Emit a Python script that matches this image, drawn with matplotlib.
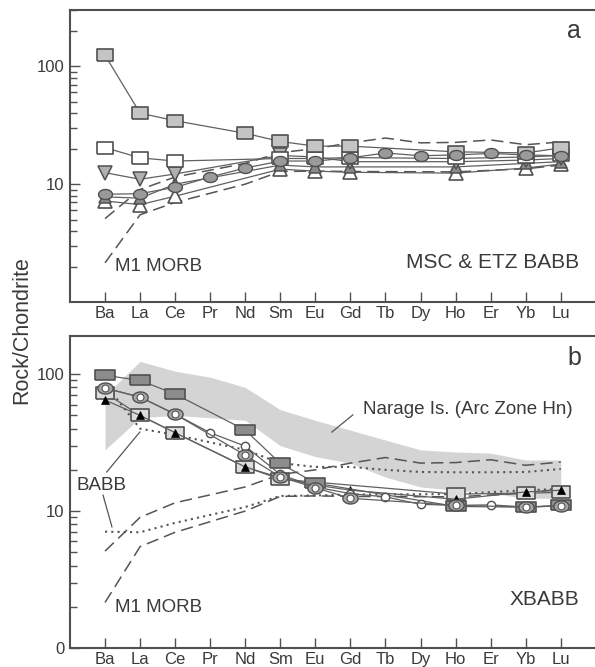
import numpy as np
import matplotlib
matplotlib.use("Agg")
import matplotlib.pyplot as plt
from matplotlib.ticker import FixedLocator, FixedFormatter, NullFormatter

plt.rcParams['font.family'] = ['Liberation Sans', 'DejaVu Sans']

nan = np.nan
elements = ['Ba', 'La', 'Ce', 'Pr', 'Nd', 'Sm', 'Eu', 'Gd', 'Tb', 'Dy', 'Ho', 'Er', 'Yb', 'Lu']

# reference lines (both panels)
morb_upper = [5.1, 9.0, 11.5, nan, 15.0, 18.5, 20.0, 22.4, 24.6, 22.4, 22.6, 23.7, 21.6, 22.8]
morb_m1 = [2.15, 5.5, 7.0, nan, 10.0, 12.8, 12.9, 12.8, nan, nan, 12.7, nan, 13.5, 14.5]

# panel a: MSC & ETZ BABB
a_gray_sq = [124, 40, 34.5, nan, 27, 23, 21, 21, nan, nan, 18.8, nan, 18.4, 20.3]
a_open_sq = [20.4, 16.7, 15.7, nan, nan, 16.5, 16.5, 16.8, nan, nan, 16.5, nan, 17.0, 17.5]
a_down_tri = [12.5, 11.0, 12.2, nan, nan, 17.5, 17.0, 15.5, nan, nan, 15.5, nan, 16.0, 16.5]
a_ellipse = [8.2, 8.3, 9.4, 11.5, 13.7, 15.7, 15.7, 16.7, 18.4, 17.4, 17.7, 18.2, 17.7, 17.4]
a_dark_tri = [7.8, 7.6, 10.0, nan, nan, 14.5, 14.0, 14.0, nan, nan, 14.0, nan, 15.0, 15.5]
a_open_tri = [7.2, 6.7, 7.9, nan, nan, 13.4, 12.9, 12.6, nan, nan, 12.4, nan, 13.7, 14.8]

# panel b: XBABB
babb_low = [7.07, 7.0, 8.2, nan, 10.7, 12.9, 13.0, 13.2, nan, nan, 13.3, nan, 14.2, 14.5]
babb_high = [85, 40, 36, nan, 28, 22.4, 21.0, 21.0, 20.0, 19.3, 19.2, 19.2, 19.3, 20.3]
narage_hi = [70, 124, 105, 95, 80, 55, 46, 39, 33, 28, 27, 26.5, 23.6, 23.6]
narage_lo = [28, 48, 50, 48, 46, 30, 25, 22.4, 17.7, 15, 14.2, 13.5, 12.4, 12.4]
b_dark_sq = [98, 90, 71.5, nan, 39, 22.3, 16.0, nan, nan, nan, 10.8, nan, 10.7, 11.0]
b_light_sq = [73, 50, 37.3, nan, 21, 17.1, nan, nan, nan, nan, 13.3, nan, 13.5, 13.7]
b_tri = [64.6, 50, 37.3, nan, 21, 17.5, 15.5, 14.2, nan, nan, 12.2, nan, 13.8, 14.2]
b_ellipse = [79, 68, 51, nan, 25.6, 17.8, 14.8, 12.4, nan, nan, 11.0, nan, 10.7, 10.9]
b_circle = [79, 68, 51, 37.3, 29.8, 18.5, 15.0, 13.4, 12.7, 11.2, 11.0, 11.1, 10.7, 10.9]

idx = np.arange(len(elements))
TXT = '#3a3a3a'
EDGE = '#505050'

# marker shapes
t = np.linspace(0, 2 * np.pi, 40)
ELL = np.column_stack([np.cos(t), 0.72 * np.sin(t)])
RECT = [(-1, -0.7), (1, -0.7), (1, 0.7), (-1, 0.7), (-1, -0.7)]
RECT_B = [(-1, -0.5), (1, -0.5), (1, 0.5), (-1, 0.5), (-1, -0.5)]


def series(ax, vals, ls='-', lw=0.9, color='#606060', **mk):
    v = np.array(vals, dtype=float)
    m = ~np.isnan(v)
    ax.plot(idx[m], v[m], linestyle=ls, lw=lw, color=color, **mk)


def style(ax, ytop, labels):
    ax.set_yscale('log')
    ax.set_ylim(1, ytop)
    ax.set_xlim(-1, 13.97)
    ax.yaxis.set_major_locator(FixedLocator(list(labels.keys())))
    ax.yaxis.set_major_formatter(FixedFormatter(list(labels.values())))
    minors = [m * d for d in (1, 10, 100) for m in range(2, 10)]
    ax.yaxis.set_minor_locator(FixedLocator(minors))
    ax.yaxis.set_minor_formatter(NullFormatter())
    ax.set_xticks(idx)
    ax.set_xticklabels(elements)
    ax.tick_params(axis='both', which='major', direction='in', length=7, width=1,
                   color=EDGE, labelcolor=TXT, labelsize=12, pad=4)
    ax.tick_params(axis='y', which='minor', direction='in', length=5, width=1, color=EDGE)
    ax.tick_params(axis='x', pad=3)
    for s in ('left', 'bottom', 'top'):
        ax.spines[s].set_color(EDGE)
        ax.spines[s].set_linewidth(1.5)
    ax.spines['right'].set_visible(False)


fig = plt.figure(figsize=(5.95, 6.67), dpi=100)
ax_a = fig.add_axes([0.1176, 0.5472, 0.882, 0.4378])
ax_b = fig.add_axes([0.1176, 0.0285, 0.882, 0.4678])

# ---------------- panel a ----------------
ax = ax_a
series(ax, morb_upper, ls=(0, (8, 4)), lw=1.1, color='#555555')
series(ax, morb_m1, ls=(0, (8, 4)), lw=1.1, color='#555555')
series(ax, a_open_tri, marker='^', ms=10, mfc='white', mec=EDGE, mew=1.2)
series(ax, a_dark_tri, marker='^', ms=9, mfc='#8a8a8a', mec=EDGE, mew=1.1)
series(ax, a_down_tri, marker='v', ms=10, mfc='#b0b0b0', mec=EDGE, mew=1.1)
series(ax, a_open_sq, marker=RECT, ms=12, mfc='white', mec=EDGE, mew=1.2)
series(ax, a_gray_sq, marker=RECT, ms=12, mfc='#c4c4c4', mec=EDGE, mew=1.2)
series(ax, a_ellipse, marker=ELL, ms=10, mfc='#9a9a9a', mec=EDGE, mew=1.0)
style(ax, 300, {10: '10', 100: '100'})

ax.text(0.96, 0.928, 'a', transform=ax.transAxes, ha='center', va='center',
        fontsize=18, color=TXT)
ax.text(0.971, 0.134, 'MSC & ETZ BABB', transform=ax.transAxes, ha='right',
        va='center', fontsize=15, color=TXT)
ax.text(0.086, 0.123, 'M1 MORB', transform=ax.transAxes, ha='left',
        va='center', fontsize=13.5, color=TXT)

# ---------------- panel b ----------------
ax = ax_b
ax.fill_between(idx, narage_lo, narage_hi, color='#d4d4d4', lw=0, zorder=0)
series(ax, morb_upper, ls=(0, (8, 4)), lw=1.1, color='#555555')
series(ax, morb_m1, ls=(0, (8, 4)), lw=1.1, color='#555555')
series(ax, babb_low, ls=(0, (1, 2)), lw=1.5, color='#555555')
series(ax, babb_high, ls=(0, (1, 2)), lw=1.5, color='#555555')
series(ax, b_light_sq, marker=RECT, ms=13, mfc='#dcdcdc', mec=EDGE, mew=1.2)
series(ax, b_tri, marker='^', ms=6, mfc='black', mec='black', mew=0.5)
series(ax, b_dark_sq, marker=RECT_B, ms=14, mfc='#8c8c8c', mec=EDGE, mew=1.2)
series(ax, b_circle, marker='o', ms=6, mfc='white', mec=EDGE, mew=1.0)
series(ax, b_ellipse, marker=ELL, ms=11, mfc='#a8a8a8', mec=EDGE, mew=1.0)
series(ax, b_ellipse, lw=0, marker='o', ms=5, mfc='white', mec=EDGE, mew=0.8)
style(ax, 190, {1: '0', 10: '10', 100: '100'})

ax.text(0.962, 0.929, 'b', transform=ax.transAxes, ha='center', va='center',
        fontsize=18, color=TXT)
ax.text(0.558, 0.763, 'Narage Is. (Arc Zone Hn)', transform=ax.transAxes,
        ha='left', va='center', fontsize=13.5, color=TXT)
ax.plot([0.539, 0.499], [0.747, 0.692], transform=ax.transAxes, color='#555555', lw=0.9)
ax.text(0.013, 0.522, 'BABB', transform=ax.transAxes, ha='left', va='center',
        fontsize=13.5, color=TXT)
ax.plot([0.070, 0.133], [0.564, 0.692], transform=ax.transAxes, color='#555555', lw=0.9)
ax.plot([0.063, 0.080], [0.490, 0.388], transform=ax.transAxes, color='#555555', lw=0.9)
ax.text(0.086, 0.131, 'M1 MORB', transform=ax.transAxes, ha='left',
        va='center', fontsize=13.5, color=TXT)
ax.text(0.971, 0.154, 'XBABB', transform=ax.transAxes, ha='right',
        va='center', fontsize=15, color=TXT)

fig.text(0.037, 0.505, 'Rock/Chondrite', rotation=90, ha='center', va='center',
         fontsize=15.5, color=TXT)

fig.savefig('out.png', dpi=100)
